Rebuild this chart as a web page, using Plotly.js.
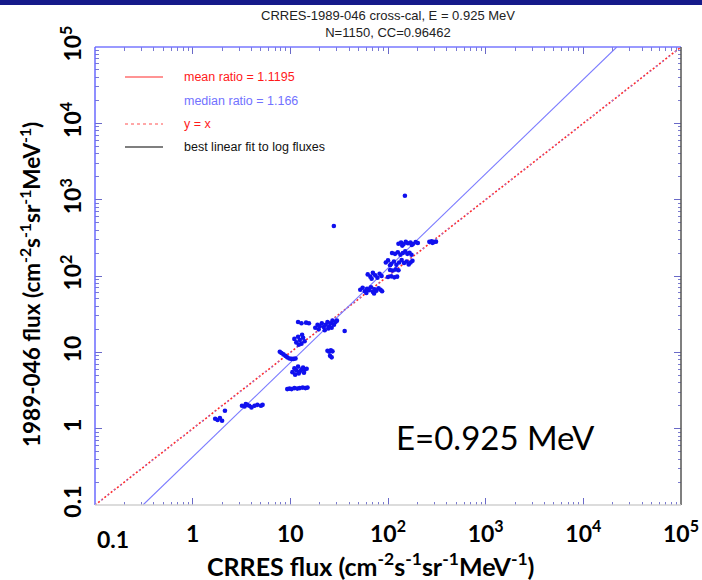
<!DOCTYPE html>
<html><head><meta charset="utf-8">
<script src="https://cdn.plot.ly/plotly-3.0.1.min.js"></script>
<style>html,body{margin:0;padding:0;background:#fff;} #chart{width:702px;height:580px;}</style>
</head><body><div id="chart"></div><script>
// scatter data: CRRES flux (x) vs 1989-046 flux (y)
const crresFlux = [
 3.2,3.4,3.6,3.8,4.0,4.3,4.6,5.0,5.2,3.5,
 1.7,1.8,1.9,2.0,2.14,
 9.3,9.8,10.3,11,11.8,12.5,13.4,14.3,15,
 10.5,11,11.5,12,12.5,13,13.5,14,14.7,11.2,12.2,13.8,
 7.8,8.1,8.5,8.9,9.3,9.8,10.3,10.8,11.3,
 11,11.5,12,12.5,13,13.5,14,12.2,13.2,
 12,13,14.5,15.5,18,19,20,21,22,23,24,25,26,27,28,29,30,19.5,22.5,24.5,26.5,36,
 24,25,26,27,25.5,26.5,
 52,55,58,61,64,67,70,73,76,80,84,87,60,72,
 62,66,70,74,78,82,86,68,
 95,100,108,115,122,130,138,146,155,163,170,178,105,
 105,112,120,128,100,108,116,124,
 110,118,126,134,142,150,158,166,174,
 128,136,144,152,160,170,180,192,202,140,175,
 265,280,295,310,285,
 149,27.9
];
const flux046 = [
 2.0,1.95,2.05,2.0,1.9,2.0,2.05,2.0,2.05,2.1,
 1.35,1.3,1.38,1.27,1.72,
 3.3,3.35,3.3,3.4,3.35,3.4,3.45,3.4,3.45,
 5.5,6.2,5.8,6.5,5.6,6.0,6.3,5.9,6.1,5.1,5.3,5.4,
 10.2,9.8,9.4,9.0,8.6,8.3,8.2,8.2,8.3,
 15,13.5,16,14.5,13,15.5,14,12.6,17,
 25,24,24.5,24,21,23,22,24,21.5,23,25,22,24,26,23,25,26,20,19.5,20.5,21,19,
 10.5,10.2,10.6,10.3,9.0,8.6,
 66,70,63,68,65,71,62,67,64,69,66,63,60,59,
 105,98,110,102,95,107,100,92,
 150,160,145,155,140,150,162,148,155,142,150,158,138,
 120,118,122,119,97,99,96,98,
 200,195,205,190,200,210,195,202,190,
 265,275,260,280,268,275,262,278,270,250,255,
 280,285,278,282,272,
 1127,452
];
// reference lines (end points)
const identityX = [0.1, 100000], identityY = [0.1, 100000];
const fitX = [0.31, 22000], fitY = [0.1, 100000];
// axis ticks
const decadeVals = [0.1, 1, 10, 100, 1000, 10000, 100000];
const xTickText = ['','1','10','10<sup>2</sup>','10<sup>3</sup>','10<sup>4</sup>','10<sup>5</sup>'];
const yTickText = ['0.1','1','10','10<sup>2</sup>','10<sup>3</sup>','10<sup>4</sup>','10<sup>5</sup>'];
const minorVals = [];
[0.1,1,10,100,1000,10000].forEach(d => { for (let k = 2; k <= 9; k++) minorVals.push(d*k); });
// legend
const legendLabels = ['mean ratio = 1.1195','median ratio = 1.166','y = x','best linear fit to log fluxes'];
const legendColors = ['#ff1a1a','#7272ff','#ff1a1a','#111111'];

const PL = 95, PR = 681, PT = 47, PB = 505, W = 702, H = 580;
const px = x => (x - PL) / (PR - PL);
const py = y => 1 - (y - PT) / (PB - PT);

const traces = [
 {x: identityX, y: identityY, mode:'lines', line:{color:'#ff2a2a', width:1.6, dash:'2px,2px'}, hoverinfo:'skip'},
 {x: identityX, y: identityY, mode:'lines', line:{color:'#8c8cff', width:1.6, dash:'1px,7px'}, hoverinfo:'skip'},
 {x: fitX, y: fitY, mode:'lines', line:{color:'#7c7cff', width:1.1}, hoverinfo:'skip'},
 {x: crresFlux, y: flux046, mode:'markers', marker:{color:'#1010ee', size:4.6, line:{width:0}}}
];

const tickFont = {family:'Lato, "Open Sans", sans-serif', size:23, color:'#000', weight:'bold'};
const axisCommon = {
 type:'log', range:[-1,5], showgrid:false, zeroline:false, showline:false,
 ticks:'inside', ticklen:7, tickwidth:1, tickcolor:'#6a6ac8', mirror:'ticks',
 tickmode:'array', tickvals: decadeVals, tickfont: tickFont,
 minor:{tickmode:'array', tickvals: minorVals, ticks:'inside', ticklen:3.5, tickcolor:'#7a7ad0', tickwidth:1}
};

const annotations = [
 {xref:'paper', yref:'paper', x:px(388), y:py(24), text:'CRRES-1989-046 cross-cal, E = 0.925 MeV<br>N=1150, CC=0.96462',
  showarrow:false, font:{family:'Liberation Sans, Arial, sans-serif', size:13, color:'#222'}, xanchor:'center', yanchor:'middle'},
 {xref:'paper', yref:'paper', x:px(370), y:py(564), text:'CRRES flux (cm<sup>-2</sup>s<sup>-1</sup>sr<sup>-1</sup>MeV<sup>-1</sup>)',
  showarrow:false, font:{family:'Lato, sans-serif', size:25, color:'#000', weight:'bold'}, xanchor:'center', yanchor:'middle'},
 {xref:'paper', yref:'paper', x:px(30), y:py(285), textangle:-90, text:'1989-046 flux (cm<sup>-2</sup>s<sup>-1</sup>sr<sup>-1</sup>MeV<sup>-1</sup>)',
  showarrow:false, font:{family:'Lato, sans-serif', size:22.5, color:'#000', weight:'bold'}, xanchor:'center', yanchor:'middle'},
 {xref:'paper', yref:'paper', x:px(394), y:py(437), text:'E=0.925 MeV', showarrow:false,
  font:{family:'Lato, sans-serif', size:33, color:'#000'}, xanchor:'left', yanchor:'middle'},
 {xref:'paper', yref:'paper', x:px(113), y:py(539), text:'0.1', showarrow:false,
  font:tickFont, xanchor:'center', yanchor:'middle'}
];
const legendRows = [77, 101, 124, 147];
legendLabels.forEach((t, i) => annotations.push({xref:'paper', yref:'paper', x:px(182), y:py(legendRows[i]), text:t, showarrow:false,
  font:{family:'Liberation Sans, Arial, sans-serif', size:12.5, color:legendColors[i]}, xanchor:'left', yanchor:'middle'}));

const shapes = [
 {type:'rect', xref:'paper', yref:'paper', x0:px(-5), x1:px(710), y0:py(5), y1:py(-2), fillcolor:'#151a8a', line:{width:0}},
 {type:'line', xref:'paper', yref:'paper', x0:0, x1:1, y0:1, y1:1, line:{color:'#7878ff', width:1.5}},
 {type:'line', xref:'paper', yref:'paper', x0:0, x1:0, y0:0, y1:1, line:{color:'#6a6aff', width:1.5}},
 {type:'line', xref:'paper', yref:'paper', x0:1, x1:1, y0:0, y1:1, line:{color:'#555', width:1.5}},
 {type:'line', xref:'paper', yref:'paper', x0:0, x1:1, y0:0, y1:0, line:{color:'#d0d0d0', width:1.5}},
 {type:'line', xref:'paper', yref:'paper', x0:px(125), x1:px(163), y0:py(77), y1:py(77), line:{color:'#ff7070', width:1.5}},
 {type:'line', xref:'paper', yref:'paper', x0:px(125), x1:px(163), y0:py(124), y1:py(124), line:{color:'#ff5050', width:1.2, dash:'dot'}},
 {type:'line', xref:'paper', yref:'paper', x0:px(125), x1:px(163), y0:py(147), y1:py(147), line:{color:'#555', width:1.5}}
];

const layout = {
 width:W, height:H, margin:{l:PL, r:W-PR, t:PT, b:H-PB}, paper_bgcolor:'#fff', plot_bgcolor:'#fff',
 showlegend:false,
 xaxis: Object.assign({}, axisCommon, {ticktext:xTickText, ticklabelstandoff:13}),
 yaxis: Object.assign({}, axisCommon, {ticktext:yTickText, tickangle:-90, ticklabelstandoff:8}),
 annotations, shapes
};
Plotly.newPlot('chart', traces, layout, {staticPlot:true, displayModeBar:false});
</script></body></html>
